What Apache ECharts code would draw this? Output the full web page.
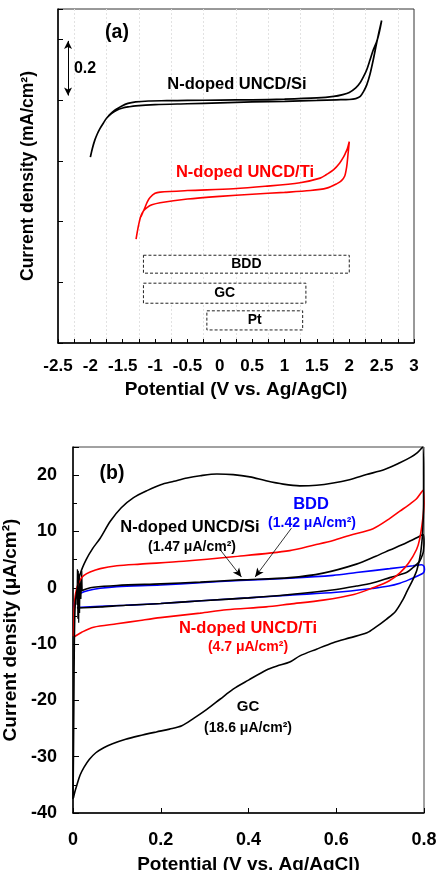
<!DOCTYPE html>
<html><head><meta charset="utf-8">
<script src="https://cdn.jsdelivr.net/npm/echarts@6/dist/echarts.min.js"></script>
<style>html,body{margin:0;padding:0;background:#fff}#c{width:440px;height:870px}</style>
</head><body><div id="c"></div>
<script>
const F = '"Liberation Sans", Arial, sans-serif';

// ---------- Panel (a): potential windows (V vs Ag/AgCl, mA/cm2, offset) ----------
const siA = [[-2.0,0.612],[-1.97,0.64],[-1.93,0.669],[-1.89,0.69],[-1.85,0.707],[-1.8,0.724],[-1.75,0.740],[-1.68,0.755],[-1.6,0.766],[-1.5,0.774],[-1.4,0.778],[-1.3,0.781],[-1.0,0.785],[-0.5,0.788],[0,0.791],[0.5,0.794],[1.0,0.796],[1.5,0.799],[1.8,0.801],[2.0,0.802],[2.1,0.805],[2.17,0.812],[2.22,0.828],[2.27,0.85],[2.32,0.885],[2.37,0.932],[2.42,0.985],[2.46,1.025],[2.5,1.062],
  [2.46,1.02],[2.42,0.99],[2.37,0.965],[2.32,0.932],[2.27,0.90],[2.22,0.877],[2.17,0.858],[2.1,0.840],[2.0,0.825],[1.9,0.818],[1.76,0.812],[1.5,0.807],[1.0,0.803],[0.5,0.801],[0,0.8],[-0.5,0.799],[-0.82,0.798],[-1.1,0.797],[-1.3,0.794],[-1.42,0.789],[-1.52,0.78],[-1.6,0.77],[-1.66,0.76],[-1.72,0.748]];
const tiA = [[-1.294,0.342],[-1.27,0.372],[-1.245,0.398],[-1.22,0.418],[-1.18,0.435],[-1.12,0.447],[-1.05,0.455],[-0.923,0.462],[-0.5,0.474],[0,0.483],[0.5,0.49],[1.0,0.496],[1.4,0.502],[1.65,0.51],[1.81,0.525],[1.88,0.535],[1.93,0.55],[1.96,0.58],[1.98,0.62],[2.0,0.663],
  [1.97,0.64],[1.94,0.625],[1.91,0.612],[1.85,0.592],[1.755,0.570],[1.65,0.555],[1.55,0.543],[1.24,0.528],[0.7,0.516],[0.21,0.508],[-0.5,0.502],[-0.923,0.497],[-1.0,0.493],[-1.078,0.479],[-1.12,0.465],[-1.155,0.447],[-1.19,0.43],[-1.22,0.415]];
const windowNames = ['BDD','GC','Pt'];
const windowFrom  = [-1.18,-1.18,-0.20];
const windowTo    = [2.0, 1.33, 1.28];
const windowTop   = [0.289,0.197,0.106];
const windowBot   = [0.230,0.131,0.043];
const scaleBarA = [[-2.345,0.995],[-2.345,0.815]];

// ---------- Panel (b): CVs at 0-0.8 V (uA/cm2) ----------
const gcB = [[0.0,-37.5],[0.001,-30],[0.002,-20],[0.003,-10],[0.005,-3],[0.01,0],[0.017,2.6],[0.03,5.0],[0.045,7.0],[0.062,8.8],[0.085,11.8],[0.11,14.2],[0.138,16.0],[0.17,17.3],[0.2,18.3],[0.23,18.9],[0.26,19.5],[0.29,19.9],[0.328,20.2],[0.365,20.1],[0.403,19.7],[0.44,19.0],[0.479,18.4],[0.517,18.1],[0.555,18.2],[0.593,18.6],[0.63,19.2],[0.669,20.1],[0.71,21.0],[0.745,22.2],[0.77,23.2],[0.785,24.0],[0.797,25.0],
  [0.799,20],[0.799,15],[0.797,10],[0.792,6],[0.784,3.2],[0.775,1.5],[0.762,-0.5],[0.752,-2.1],[0.735,-4.2],[0.714,-5.6],[0.69,-7.0],[0.67,-8.0],[0.63,-8.9],[0.593,-9.75],[0.555,-10.9],[0.517,-12.1],[0.494,-13.2],[0.465,-13.9],[0.441,-14.6],[0.40,-16.4],[0.365,-18.0],[0.335,-19.8],[0.305,-21.6],[0.275,-23.2],[0.248,-24.5],[0.22,-25.1],[0.19,-25.6],[0.15,-26.3],[0.12,-26.9],[0.09,-27.7],[0.07,-28.4],[0.052,-29.3],[0.037,-30.5],[0.025,-31.9],[0.016,-33.3],[0.009,-35.0],[0.004,-36.3],[0.001,-37.3]];
const tiB = [[0.001,-8.6],[0.002,-6],[0.003,-3.3],[0.005,-1.5],[0.008,-0.3],[0.012,0.7],[0.017,1.5],[0.025,2.2],[0.039,2.8],[0.062,3.4],[0.1,3.9],[0.153,4.2],[0.252,4.7],[0.365,5.5],[0.494,6.6],[0.55,7.6],[0.593,8.4],[0.63,9.3],[0.684,10.5],[0.72,12.2],[0.745,13.6],[0.77,15.0],[0.783,15.8],[0.798,17.3],
  [0.8,15],[0.797,12.1],[0.79,8.6],[0.783,6.8],[0.765,4.4],[0.745,2.66],[0.72,1.2],[0.684,0],[0.64,-1.2],[0.57,-2.2],[0.494,-2.9],[0.44,-3.4],[0.35,-3.9],[0.29,-4.5],[0.199,-5.3],[0.153,-5.8],[0.1,-6.4],[0.047,-7.0],[0.02,-7.9],[0.003,-8.7]];
const bddB = [[0.003,-3.5],[0.004,-2.4],[0.008,-1.6],[0.017,-1.0],[0.035,-0.5],[0.062,-0.1],[0.1,0.2],[0.2,0.5],[0.29,0.9],[0.381,1.3],[0.494,1.7],[0.593,2.2],[0.646,2.7],[0.722,3.4],[0.775,3.9],[0.794,4.1],[0.8,3.8],[0.801,3.2],[0.798,2.6],[0.785,2.1],[0.765,1.4],[0.745,0.8],[0.72,0.3],[0.684,-0.1],[0.6,-0.8],[0.494,-1.3],[0.4,-1.8],[0.293,-2.3],[0.2,-2.8],[0.12,-3.1],[0.062,-3.3],[0.009,-3.5]];
const siB = [[0.003,-3.5],[0.005,-2.2],[0.01,-1.2],[0.017,-0.6],[0.03,-0.2],[0.047,0.1],[0.1,0.4],[0.2,0.7],[0.29,1.0],[0.381,1.4],[0.494,1.8],[0.57,2.6],[0.646,4.2],[0.69,5.6],[0.722,6.7],[0.76,8.0],[0.79,9.15],[0.798,9.45],
  [0.8,8],[0.799,6.8],[0.798,6.2],[0.79,4.7],[0.775,3.6],[0.76,2.7],[0.722,1.8],[0.684,0.9],[0.646,0.3],[0.6,-0.3],[0.494,-1.2],[0.4,-1.8],[0.293,-2.3],[0.2,-2.8],[0.12,-3.1],[0.062,-3.4],[0.009,-3.6]];
const spikeB = [[0.009,-3],[0.010,3.3],[0.011,-5.5],[0.012,3.0],[0.013,-6.2],[0.014,2.5],[0.015,-4.5],[0.016,1.5],[0.018,-2],[0.02,3.0],[0.021,-0.5]];
const arrowsB = [[[0.335,6.8],[0.384,1.9]],[[0.498,10.6],[0.415,1.9]]];

const chart = echarts.init(document.getElementById('c'));
const bold = (s, c) => ({fontFamily: F, fontWeight: 'bold', fontSize: s, color: c || '#000'});
const txt = (x, y, t, s, c) => ({type: 'text', x: x, y: y, z: 100, style: {text: t, fill: c || '#000', font: 'bold ' + s + 'px ' + F, textAlign: 'center', textVerticalAlign: 'middle', align: 'center', verticalAlign: 'middle'}});

const option = {
  animation: false,
  backgroundColor: '#fff',
  grid: [
    {left: 58, top: 9, width: 356, height: 334, show: true, borderColor: '#333', borderWidth: 1, containLabel: false, outerBoundsMode: 'none'},
    {left: 73, top: 447, width: 351, height: 366, show: true, borderColor: '#444', borderWidth: 1, containLabel: false, outerBoundsMode: 'none'}
  ],
  xAxis: [
    {gridIndex: 0, type: 'value', min: -2.5, max: 3, interval: 0.5,
     axisLine: {onZero: false, lineStyle: {color: '#000', width: 1.5}},
     axisTick: {inside: true, length: 4, lineStyle: {color: '#000'}},
     minorTick: {show: true, splitNumber: 2, length: 4, lineStyle: {color: '#000'}},
     splitLine: {show: false},
     minorSplitLine: {show: true, lineStyle: {color: '#e2e2e2', type: [2, 2], width: 1}},
     axisLabel: Object.assign({margin: 15, showMinLabel: true, showMaxLabel: true, hideOverlap: false}, bold(17)),
     name: 'Potential (V vs. Ag/AgCl)', nameLocation: 'middle', nameGap: 37, nameTextStyle: bold(19)},
    {gridIndex: 1, type: 'value', min: 0, max: 0.8, interval: 0.2,
     axisLine: {onZero: false, lineStyle: {color: '#000', width: 1.5}},
     axisTick: {inside: true, length: 5, lineStyle: {color: '#000'}},
     splitLine: {show: false},
     axisLabel: Object.assign({margin: 18, showMinLabel: true, showMaxLabel: true, hideOverlap: false, formatter: v => String(+v.toFixed(1))}, bold(18)),
     name: 'Potential (V vs. Ag/AgCl)', nameLocation: 'middle', nameGap: 42, nameTextStyle: bold(19)}
  ],
  yAxis: [
    {gridIndex: 0, type: 'value', min: 0, max: 1.1, interval: 0.2,
     axisLine: {onZero: false, lineStyle: {color: '#000', width: 1.5}},
     axisTick: {inside: true, length: 5, lineStyle: {color: '#000'}},
     splitLine: {show: false}, axisLabel: {show: false},
     name: 'Current density (mA/cm²)', nameLocation: 'middle', nameGap: 21, nameTextStyle: bold(17.5)},
    {gridIndex: 1, type: 'value', min: -40, max: 25, interval: 10,
     axisLine: {onZero: false, lineStyle: {color: '#000', width: 1.5}},
     axisTick: {inside: true, length: 6, lineStyle: {color: '#000'}},
     minorTick: {show: true, splitNumber: 2, length: 4, lineStyle: {color: '#000'}},
     splitLine: {show: false},
     axisLabel: Object.assign({margin: 16, showMinLabel: true, showMaxLabel: false, hideOverlap: false}, bold(18)),
     name: 'Current density (μA/cm²)', nameLocation: 'middle', nameGap: 47, nameTextStyle: bold(19)}
  ],
  series: [
    {type: 'line', xAxisIndex: 0, yAxisIndex: 0, data: tiA, showSymbol: false, smooth: 0.3,
     lineStyle: {color: '#ff0000', width: 1.6}, silent: true,
     markArea: {silent: true,
       itemStyle: {color: '#fff', borderColor: '#222', borderWidth: 1, borderType: [3, 2]},
       label: Object.assign({show: true, position: 'inside'}, bold(14)),
       data: windowNames.map((n, i) => [{name: n, coord: [windowFrom[i], windowTop[i]]}, {coord: [windowTo[i], windowBot[i]]}])}},
    {type: 'line', xAxisIndex: 0, yAxisIndex: 0, data: siA, showSymbol: false, smooth: 0.3,
     lineStyle: {color: '#000', width: 1.7}, silent: true,
     markLine: {silent: true, symbol: ['arrow', 'arrow'], symbolSize: [6, 8],
       lineStyle: {color: '#000', width: 1, type: 'solid'}, label: {show: false},
       data: [[{coord: scaleBarA[0]}, {coord: scaleBarA[1]}]]}},
    {type: 'line', xAxisIndex: 1, yAxisIndex: 1, data: bddB, showSymbol: false, smooth: 0.3,
     lineStyle: {color: '#0000ff', width: 1.6}, silent: true},
    {type: 'line', xAxisIndex: 1, yAxisIndex: 1, data: siB, showSymbol: false, smooth: 0.3,
     lineStyle: {color: '#000', width: 1.6}, silent: true,
     markLine: {silent: true, symbol: ['none', 'arrow'], symbolSize: [6, 9],
       lineStyle: {color: '#000', width: 0.8, type: 'solid'}, label: {show: false},
       data: arrowsB.map(a => [{coord: a[0]}, {coord: a[1]}])}},
    {type: 'line', xAxisIndex: 1, yAxisIndex: 1, data: spikeB, showSymbol: false, smooth: false,
     lineStyle: {color: '#000', width: 1.2}, silent: true},
    {type: 'line', xAxisIndex: 1, yAxisIndex: 1, data: tiB, showSymbol: false, smooth: 0.3,
     lineStyle: {color: '#ff0000', width: 1.6}, silent: true},
    {type: 'line', xAxisIndex: 1, yAxisIndex: 1, data: gcB, showSymbol: false, smooth: 0.3,
     lineStyle: {color: '#000', width: 1.6}, silent: true}
  ],
  graphic: [
    txt(117, 33, '(a)', 19.5),
    txt(85, 69, '0.2', 16),
    txt(237, 84, 'N-doped UNCD/Si', 16.5),
    txt(245, 172, 'N-doped UNCD/Ti', 16.5, '#ff0000'),
    txt(112, 474, '(b)', 19.5),
    txt(311, 504, 'BDD', 16.5, '#0000ff'),
    txt(312, 523, '(1.42 μA/cm²)', 14, '#0000ff'),
    txt(190, 527, 'N-doped UNCD/Si', 16.5),
    txt(192, 547, '(1.47 μA/cm²)', 14),
    txt(248, 628, 'N-doped UNCD/Ti', 16.5, '#ff0000'),
    txt(248, 647, '(4.7 μA/cm²)', 14, '#ff0000'),
    txt(248, 707, 'GC', 15),
    txt(248, 728, '(18.6 μA/cm²)', 14)
  ]
};
chart.setOption(option);
</script></body></html>
